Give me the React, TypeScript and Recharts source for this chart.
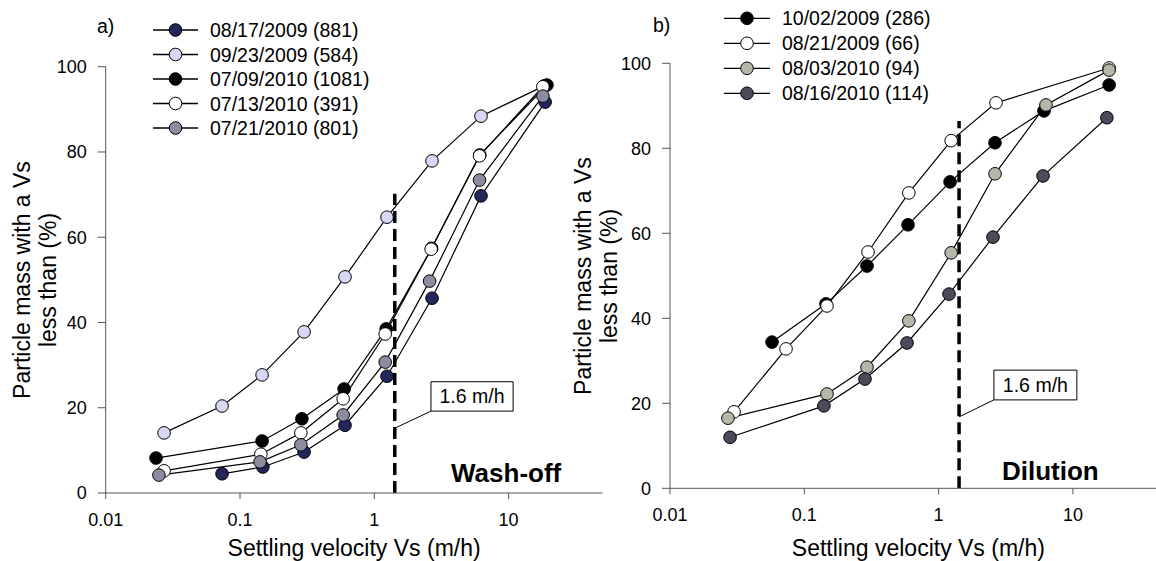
import React from 'react';
import { LineChart, Line, XAxis, YAxis, ReferenceLine, ReferenceArea, Legend } from 'recharts';

const FONT = '"Liberation Sans", Arial, sans-serif';

const xTicks = [0.01, 0.1, 1, 10];
const yTicks = [0, 20, 40, 60, 80, 100];
const xDomain = [0.01, 50];

// ---------- Panel a (Wash-off) ----------
const aNames = ['08/17/2009 (881)', '09/23/2009 (584)', '07/09/2010 (1081)', '07/13/2010 (391)', '07/21/2010 (801)'];
const aColors = ['#23265a', '#d6d8f6', '#000000', '#ffffff', '#8c8ca0'];

const a0817X = [0.0735, 0.148, 0.30, 0.605, 1.243, 2.69, 6.23, 18.7];
const a0817Y = [4.5, 6.1, 9.6, 15.9, 27.4, 45.7, 69.7, 91.7];
const a0923X = [0.0272, 0.0735, 0.146, 0.30, 0.605, 1.243, 2.69, 6.23, 18.4];
const a0923Y = [14.1, 20.4, 27.7, 37.8, 50.7, 64.7, 77.9, 88.4, 95.5];
const a0709X = [0.0237, 0.146, 0.289, 0.596, 1.226, 2.67, 6.1, 19.3];
const a0709Y = [8.2, 12.2, 17.4, 24.4, 38.5, 57.4, 79.3, 95.7];
const a0713X = [0.0272, 0.143, 0.284, 0.586, 1.205, 2.65, 6.07, 18.0];
const a0713Y = [5.2, 9.1, 14.1, 22.1, 37.3, 57.2, 79.1, 95.3];
const a0721X = [0.0249, 0.141, 0.284, 0.586, 1.205, 2.58, 6.07, 18.0];
const a0721Y = [4.2, 7.3, 11.3, 18.3, 30.7, 49.7, 73.4, 93.1];

// ---------- Panel b (Dilution) ----------
const bNames = ['10/02/2009 (286)', '08/21/2009 (66)', '08/03/2010 (94)', '08/16/2010 (114)'];
const bColors = ['#000000', '#ffffff', '#b5b7a8', '#4b4b5c'];

const b1002X = [0.0575, 0.145, 0.293, 0.592, 1.217, 2.63, 6.09, 18.6];
const b1002Y = [34.4, 43.4, 52.3, 62.0, 72.1, 81.3, 88.8, 94.9];
const b0821X = [0.030, 0.0731, 0.1475, 0.298, 0.60, 1.24, 2.675, 18.6];
const b0821Y = [18.0, 32.8, 42.9, 55.6, 69.5, 81.8, 90.7, 98.9];
const b0803X = [0.027, 0.1475, 0.293, 0.60, 1.24, 2.63, 6.3, 18.6];
const b0803Y = [16.5, 22.2, 28.5, 39.4, 55.4, 74.0, 90.2, 98.4];
const b0816X = [0.028, 0.140, 0.283, 0.582, 1.196, 2.54, 5.99, 17.9];
const b0816Y = [12.0, 19.4, 25.7, 34.2, 45.7, 59.1, 73.5, 87.2];

// Critical velocity marker
const critX = 1.42;
const critLabel = '1.6 m/h';
const aCritTop = 70.2;
const bCritTop = 86.4;

const pts = (xs: number[], ys: number[]) => xs.map((x, i) => ({ x, y: ys[i] }));

const aSeries = [
  pts(a0817X, a0817Y),
  pts(a0923X, a0923Y),
  pts(a0709X, a0709Y),
  pts(a0713X, a0713Y),
  pts(a0721X, a0721Y),
];
const bSeries = [
  pts(b1002X, b1002Y),
  pts(b0821X, b0821Y),
  pts(b0803X, b0803Y),
  pts(b0816X, b0816Y),
];

const DOT_R = 6.3;

function LegendBox(props: { names: string[]; colors: string[]; rows: number[]; x1: number; x2: number; tx: number; w: number; h: number }) {
  const { names, colors, rows, x1, x2, tx, w, h } = props;
  return (
    <svg width={w} height={h} style={{ overflow: 'visible', display: 'block' }}>
      {names.map((n, i) => (
        <g key={n}>
          <line x1={x1} x2={x2} y1={rows[i]} y2={rows[i]} stroke="#000" strokeWidth={1.3} />
          <circle cx={(x1 + x2) / 2} cy={rows[i]} r={DOT_R} fill={colors[i]} stroke="#000" strokeWidth={1} />
          <text x={tx} y={rows[i]} dy="0.36em" fontSize={19.5} fontFamily={FONT} fill="#000">
            {n}
          </text>
        </g>
      ))}
    </svg>
  );
}

const yTitle = (bx: number, cy: number) => () => (
  <text transform={`translate(${bx},${cy}) rotate(-90)`} textAnchor="middle" fontSize={23} fontFamily={FONT} fill="#000">
    <tspan x={0} y={0}>Particle mass with a Vs</tspan>
    <tspan x={0} y={26}>less than (%)</tspan>
  </text>
);

const tickStyle = { fontSize: 18, fill: '#000', fontFamily: FONT };
const AXIS = '#555';

function Panel(props: {
  series: { x: number; y: number }[][];
  names: string[];
  colors: string[];
  margin: { top: number; right: number; bottom: number; left: number };
  yWidth: number;
  xHeight: number;
  critTop: number;
  leaderY: number;
  box: { x1: number; x2: number; y1: number; y2: number };
  legendRows: number[];
  legendX1: number;
  legendX2: number;
  legendTx: number;
  yTitleX: number;
  yTitleCy: number;
}) {
  const p = props;
  return (
    <LineChart width={620} height={561} margin={p.margin}>
      <XAxis
        dataKey="x"
        type="number"
        scale="log"
        domain={xDomain}
        ticks={xTicks}
        interval={0}
        allowDataOverflow
        tickFormatter={(v: number) => String(v)}
        tickSize={6}
        tickMargin={14}
        height={p.xHeight}
        tick={tickStyle}
        axisLine={{ stroke: AXIS }}
        tickLine={{ stroke: AXIS }}
        label={{ value: 'Settling velocity Vs (m/h)', position: 'insideBottom', offset: 5, fontSize: 23, fill: '#000', fontFamily: FONT }}
      />
      <YAxis
        type="number"
        domain={[0, 100]}
        ticks={yTicks}
        interval={0}
        width={p.yWidth}
        tickSize={8}
        tickMargin={11}
        tick={tickStyle}
        axisLine={{ stroke: AXIS }}
        tickLine={{ stroke: AXIS }}
        label={yTitle(p.yTitleX, p.yTitleCy)}
      />
      <ReferenceLine
        segment={[{ x: critX, y: 0 }, { x: critX, y: p.critTop }]}
        stroke="#000"
        strokeWidth={3.5}
        strokeDasharray="12 6"
      />
      <ReferenceLine
        segment={[{ x: critX, y: p.leaderY }, { x: p.box.x1, y: p.box.y1 }]}
        stroke="#000"
        strokeWidth={1}
      />
      <ReferenceArea
        x1={p.box.x1}
        x2={p.box.x2}
        y1={p.box.y1}
        y2={p.box.y2}
        fill="#fff"
        fillOpacity={1}
        stroke="#000"
        strokeWidth={1}
        label={{ value: critLabel, position: 'center', fontSize: 19.5, fill: '#000', fontFamily: FONT }}
      />
      {p.series.map((d, i) => (
        <Line
          key={p.names[i]}
          data={d}
          dataKey="y"
          name={p.names[i]}
          type="linear"
          stroke="#000"
          strokeWidth={1.2}
          dot={{ r: DOT_R, fill: p.colors[i], stroke: '#000', strokeWidth: 1 }}
          isAnimationActive={false}
        />
      ))}
      <Legend
        layout="vertical"
        align="center"
        verticalAlign="middle"
        wrapperStyle={{ left: 0, top: 0, width: 500, height: 150 }}
        content={() => (
          <LegendBox
            names={p.names}
            colors={p.colors}
            rows={p.legendRows}
            x1={p.legendX1}
            x2={p.legendX2}
            tx={p.legendTx}
            w={500}
            h={150}
          />
        )}
      />
    </LineChart>
  );
}

export default function App() {
  return (
    <div
      style={{
        position: 'absolute',
        left: 0,
        top: 0,
        width: 1156,
        height: 561,
        overflow: 'hidden',
        background: '#fff',
        fontFamily: FONT,
      }}
    >
      <div style={{ position: 'absolute', left: 0, top: 0 }}>
        <Panel
          series={aSeries}
          names={aNames}
          colors={aColors}
          margin={{ top: 66.7, right: 17.5, bottom: 0, left: 0 }}
          yWidth={105.7}
          xHeight={68}
          critTop={aCritTop}
          leaderY={15.2}
          box={{ x1: 2.64, x2: 10.8, y1: 19.2, y2: 26.1 }}
          legendRows={[30, 54.5, 79, 103.5, 128]}
          legendX1={153}
          legendX2={198}
          legendTx={210}
          yTitleX={30}
          yTitleCy={280}
        />
      </div>
      <div style={{ position: 'absolute', left: 560, top: 0 }}>
        <Panel
          series={bSeries}
          names={bNames}
          colors={bColors}
          margin={{ top: 63.3, right: 13.2, bottom: 0, left: 0 }}
          yWidth={110}
          xHeight={72.7}
          critTop={bCritTop}
          leaderY={16.8}
          box={{ x1: 2.58, x2: 10.7, y1: 20.8, y2: 27.8 }}
          legendRows={[18.3, 43.3, 68.3, 93.3]}
          legendX1={164}
          legendX2={210}
          legendTx={222}
          yTitleX={31}
          yTitleCy={276}
        />
      </div>
      <svg
        width={1156}
        height={561}
        style={{ position: 'absolute', left: 0, top: 0, pointerEvents: 'none' }}
      >
        <text x={97} y={33} fontSize={19.5} fontFamily={FONT} fill="#000">a)</text>
        <text x={653} y={32} fontSize={19.5} fontFamily={FONT} fill="#000">b)</text>
        <text x={451} y={482} fontSize={26} fontWeight="bold" fontFamily={FONT} fill="#000">Wash-off</text>
        <text x={1002} y={480} fontSize={26} fontWeight="bold" fontFamily={FONT} fill="#000">Dilution</text>
      </svg>
    </div>
  );
}
